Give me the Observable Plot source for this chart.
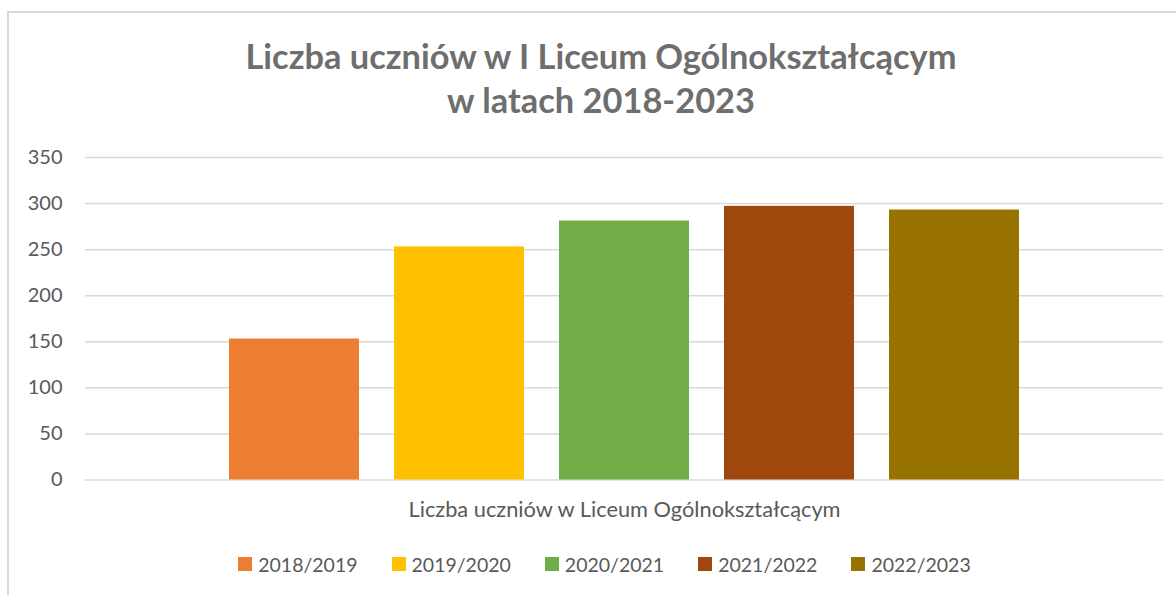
<!DOCTYPE html>
<html>
<head>
<meta charset="utf-8">
<script src="https://cdn.jsdelivr.net/npm/d3@7"></script>
<script src="https://cdn.jsdelivr.net/npm/@observablehq/plot@0.6"></script>
<style>
  html, body { margin: 0; padding: 0; background: #fff; overflow: hidden; }
  body { width: 1176px; height: 595px; position: relative; font-family: Lato, "Open Sans", sans-serif; color: #595959; }
  #frame { position: absolute; left: 7px; top: 11px; width: 1220px; height: 640px; border: 2px solid #d9d9d9; box-sizing: border-box; }
  #title { position: absolute; left: 0; top: 34px; width: 1202px; text-align: center; font-weight: 700; font-size: 34.4px; line-height: 44px; color: #6e6e6e; }
  #chart { position: absolute; left: 0; top: 140px; }
  #legend { position: absolute; left: 0; top: 551px; width: 1209px; height: 26px; display: flex; justify-content: center; align-items: center; font-size: 19.5px; color: #595959; }
  .item { display: flex; align-items: center; margin: 0 17px; }
  .sw { width: 14px; height: 14px; margin-right: 6px; }
</style>
</head>
<body>
<div id="frame"></div>
<div id="title">Liczba uczniów w I Liceum Ogólnokształcącym<br>w latach 2018-2023</div>
<div id="chart"></div>
<div id="legend"></div>
<script>
const category = "Liczba uczniów w Liceum Ogólnokształcącym";
const seasons = ["2018/2019", "2019/2020", "2020/2021", "2021/2022", "2022/2023"];
const students = [153, 253, 281, 297, 293];
const colors = ["#ED7D31", "#FFC000", "#70AD47", "#9E480E", "#997300"];
const yTicks = [0, 50, 100, 150, 200, 250, 300, 350];

const data = seasons.map((s, i) => ({ season: s, value: students[i] }));

const chart = Plot.plot({
  width: 1176,
  height: 400,
  marginTop: 17,
  marginBottom: 60.5,
  marginLeft: 85,
  marginRight: 13,
  style: { fontFamily: "Lato, 'Open Sans', sans-serif", fontSize: "20px", color: "#595959", background: "transparent", overflow: "visible" },
  x: { domain: seasons, range: [227, 1021], paddingInner: 0.21, paddingOuter: 0, axis: null },
  y: { domain: [0, 350], axis: null },
  color: { domain: seasons, range: colors },
  marks: [
    Plot.ruleY(yTicks, { stroke: "#d9d9d9", strokeWidth: 1.5 }),
    Plot.barY(data, { x: "season", y: "value", fill: "season" }),
    Plot.axisY(yTicks, { tickSize: 0, tickPadding: 23, label: null, fill: "#595959", fontSize: 20 }),
    Plot.text([category], { frameAnchor: "bottom", dy: 30, text: d => d, fill: "#595959", fontSize: 21.8, lineAnchor: "middle" })
  ]
});
document.getElementById("chart").appendChild(chart);

const legend = document.getElementById("legend");
seasons.forEach((s, i) => {
  const item = document.createElement("div");
  item.className = "item";
  const sw = document.createElement("span");
  sw.className = "sw";
  sw.style.background = colors[i];
  const label = document.createElement("span");
  label.textContent = s;
  item.appendChild(sw);
  item.appendChild(label);
  legend.appendChild(item);
});
</script>
</body>
</html>
